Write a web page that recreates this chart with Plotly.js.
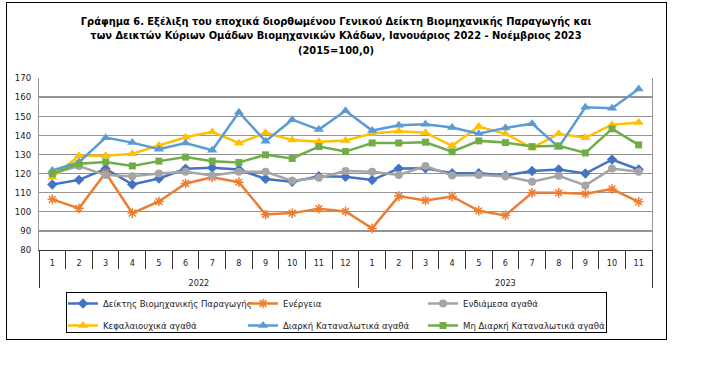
<!DOCTYPE html>
<html>
<head>
<meta charset="utf-8">
<script src="https://cdn.plot.ly/plotly-3.0.1.min.js"></script>
<style>
html,body{margin:0;padding:0;background:#fff;}
#wrap{position:relative;width:721px;height:367px;}
#chart{width:721px;height:367px;}
.box{position:absolute;box-sizing:border-box;pointer-events:none;}
#frame{left:6px;top:2px;width:661px;height:338px;border:1.5px solid #000;}
#legbox{left:66px;top:292px;width:541px;height:41px;border:1px solid #000;}
</style>
</head>
<body>
<div id="wrap"><div id="chart"></div><div id="frame" class="box"></div><div id="legbox" class="box"></div></div>
<script>
const months = ['1','2','3','4','5','6','7','8','9','10','11','12','1','2','3','4','5','6','7','8','9','10','11'];
const years = ['2022','2022','2022','2022','2022','2022','2022','2022','2022','2022','2022','2022',
               '2023','2023','2023','2023','2023','2023','2023','2023','2023','2023','2023'];

const industrial   = [114.3,116.7,122.5,114.3,117.4,122.5,123.0,122.1,117.2,115.7,118.6,118.3,116.6,122.6,122.8,120.2,120.2,119.0,121.3,122.1,120.0,127.3,122.1];
const energy       = [106.5,101.8,120.4,99.3,105.4,114.8,118.0,115.5,98.6,99.3,101.6,100.2,91.3,108.2,105.9,108.0,100.5,98.1,109.9,109.9,109.4,111.9,105.2];
const intermediate = [120.0,123.9,119.2,118.6,120.0,120.9,119.0,120.9,120.9,116.2,117.8,121.3,120.9,119.3,123.9,119.0,119.3,118.6,115.7,118.8,113.8,122.6,120.9];
const capital      = [118.1,129.3,129.3,130.3,134.7,139.0,141.8,135.9,141.3,137.6,136.7,137.3,140.9,142.1,141.4,134.5,144.6,140.8,133.4,140.8,138.7,145.6,146.7];
const durable      = [121.6,126.0,138.8,136.2,132.7,136.0,132.2,152.1,136.9,148.2,143.0,152.9,142.5,145.3,145.8,144.1,140.8,143.9,146.1,133.8,154.7,154.2,164.3];
const nondurable   = [119.9,125.1,126.1,124.0,126.5,128.6,126.5,125.8,129.8,127.9,134.1,131.5,136.0,136.0,136.4,131.4,137.1,136.2,134.1,134.5,130.8,143.4,135.0];

const seriesNames = ['Δείκτης Βιομηχανικής Παραγωγής','Ενέργεια','Ενδιάμεσα αγαθά','Κεφαλαιουχικά αγαθά','Διαρκή Καταναλωτικά αγαθά','Μη Διαρκή Καταναλωτικά αγαθά'];
const yTicks = [80,90,100,110,120,130,140,150,160,170];
const titleText = 'Γράφημα 6. Εξέλιξη του εποχικά διορθωμένου Γενικού Δείκτη Βιομηχανικής Παραγωγής και<br>των Δεικτών Κύριων Ομάδων Βιομηχανικών Κλάδων, Ιανουάριος 2022 - Νοέμβριος 2023<br>(2015=100,0)';

const W = 721, H = 367;
const M = {l: 39, r: 69, t: 78, b: 117};
const PW = W - M.l - M.r, PH = H - M.t - M.b;
const px = x => (x - M.l) / PW;
const py = y => (H - M.b - y) / PH;

const FONT = '"DejaVu Sans Condensed", "Liberation Sans Narrow", "Liberation Sans", sans-serif';

const styles = [
  {color: '#4472C4', symbol: 'diamond', size: 8},
  {color: '#ED7D31', symbol: 'asterisk-open', size: 8},
  {color: '#A5A5A5', symbol: 'circle', size: 8},
  {color: '#FFC000', symbol: 'triangle-up', size: 9},
  {color: '#5B9BD5', symbol: 'triangle-up', size: 9},
  {color: '#70AD47', symbol: 'square', size: 7}
];
const allSeries = [industrial, energy, intermediate, capital, durable, nondurable];
// year group labels pushed one line below the month labels
const yearLabels = years.map(y => '<br>' + y);
const legendIds = ['legend', 'legend2', 'legend3'];

const traces = allSeries.map((vals, i) => ({
  type: 'scatter',
  mode: 'lines+markers',
  name: seriesNames[i],
  legend: legendIds[i % 3],
  legendgroup: 'g' + i,
  x: [yearLabels, months],
  y: vals,
  line: {color: styles[i].color, width: 2.5},
  marker: {color: styles[i].color, symbol: styles[i].symbol, size: styles[i].size,
           line: {color: styles[i].color, width: styles[i].symbol === 'asterisk-open' ? 1.5 : 0}}
}));

const legendCol = x => ({
  orientation: 'v',
  x: px(x), xanchor: 'left',
  y: py(289), yanchor: 'top',
  borderwidth: 0, bgcolor: 'rgba(0,0,0,0)',
  font: {family: FONT, size: 9.5, color: '#222'},
  itemwidth: 30, tracegroupgap: 3
});

const layout = {
  width: W, height: H,
  margin: M,
  paper_bgcolor: '#fff', plot_bgcolor: '#fff',
  font: {family: FONT, size: 10, color: '#222'},
  title: {
    text: titleText,
    font: {family: FONT, size: 11, color: '#000', weight: 700},
    x: 336 / W, xanchor: 'center', xref: 'container',
    y: 1 - 25 / H, yanchor: 'top', yref: 'container'
  },
  xaxis: {
    type: 'multicategory',
    range: [-0.5, 22.5], autorange: false,
    showline: true, linecolor: '#333', linewidth: 1,
    ticks: 'outside', tickson: 'boundaries', ticklen: 18, tickcolor: '#333', tickwidth: 1,
    ticklabelstandoff: 4,
    showdividers: true, dividercolor: '#333', dividerwidth: 1,
    showgrid: false, zeroline: false,
    tickfont: {family: FONT, size: 9, color: '#222'}
  },
  yaxis: {
    range: [80, 170], tickvals: yTicks,
    showgrid: true, gridcolor: '#959595', gridwidth: 1.3,
    showline: true, linecolor: '#959595', linewidth: 1, mirror: true,
    zeroline: false, ticks: '',
    ticklabelstandoff: 5,
    tickfont: {family: FONT, size: 9.5, color: '#222'}
  },
  legend: legendCol(63),
  legend2: legendCol(243),
  legend3: legendCol(423)
};

Plotly.newPlot('chart', traces, layout, {displayModeBar: false, staticPlot: true});
</script>
</body>
</html>
